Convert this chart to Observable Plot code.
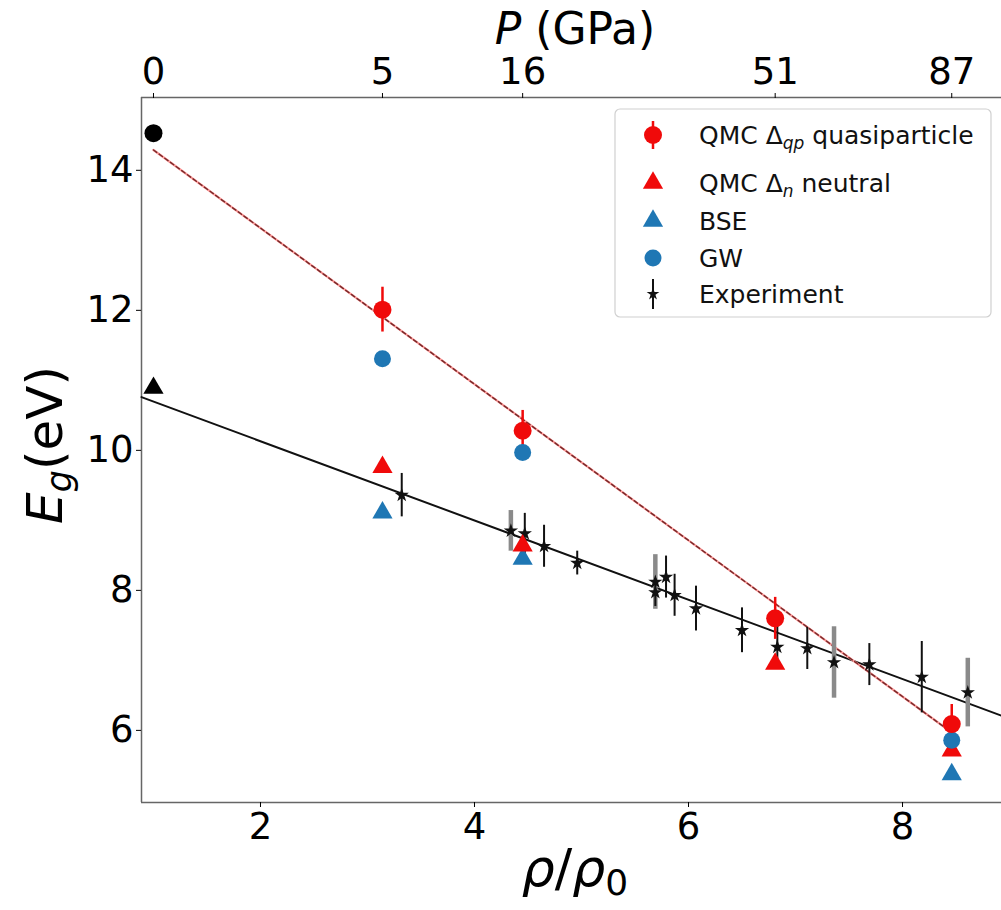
<!DOCTYPE html>
<html><head><meta charset="utf-8">
<script src="https://cdn.jsdelivr.net/npm/d3@7"></script>
<script src="https://cdn.jsdelivr.net/npm/@observablehq/plot@0.6"></script>
<style>html,body{margin:0;padding:0;background:#fff;overflow:hidden}#chart{width:1001px;height:910px}</style>
</head><body><div id="chart"></div>
<script>
// ---- data ----
const qmcRho = [3.14, 4.45, 6.81, 8.46];
const qpGap = [12.01, 10.28, 7.60, 6.09];
const qpErr = [0.32, 0.29, 0.30, 0.28];
const neutralGap = [9.76, 8.64, 6.95, 5.71];
const gwRho = [3.14, 4.45, 8.46];
const gwGap = [11.31, 9.97, 5.86];
const bseRho = [3.14, 4.45, 8.46];
const bseGap = [9.11, 8.45, 5.37];
const ambientRho = [1];
const ambientQp = [14.53];
const ambientNeutral = [10.89];
const expRho = [3.32, 4.47, 4.65, 4.96, 5.69, 5.79, 5.87, 6.07, 6.50, 6.83, 7.11, 7.69, 8.18];
const expGap = [9.36, 8.81, 8.63, 8.39, 7.97, 8.19, 7.93, 7.74, 7.43, 7.19, 7.17, 6.94, 6.76];
const expErr = [0.31, 0.29, 0.30, 0.17, 0.20, 0.30, 0.30, 0.32, 0.32, 0.30, 0.30, 0.30, 0.51];
const exp2Rho = [4.34, 5.69, 7.36, 8.61];
const exp2Gap = [8.85, 8.12, 6.97, 6.54];
const exp2Err = [0.29, 0.39, 0.51, 0.49];
const qpFitRho = [1, 8.46];
const qpFitGap = [14.29, 5.97];
const nFitRho = [0.888, 8.925];
const nFitGap = [10.76, 6.21];
const topRho = [1, 3.14, 4.45, 6.81, 8.46];
const topP = ["0", "5", "16", "51", "87"];
const bottomTicks = [2, 4, 6, 8];
const leftTicks = [6, 8, 10, 12, 14];
const xDomain = [0.888, 8.925];
const yDomain = [4.97, 15.04];

const RED = "#f00a0a", BLUE = "#1f77b4";
const rows = (xs, ys, es) => xs.map((x, i) => ({x, y: ys[i], e: es ? es[i] : 0}));
const qp = rows(qmcRho, qpGap, qpErr);
const neutral = rows(qmcRho, neutralGap);
const gw = rows(gwRho, gwGap);
const bse = rows(bseRho, bseGap);
const exp1 = rows(expRho, expGap, expErr);
const exp2 = rows(exp2Rho, exp2Gap, exp2Err);
const qpFit = rows(qpFitRho, qpFitGap);
const nFit = rows(nFitRho, nFitGap);

const plot = Plot.plot({
  width: 1001, height: 910,
  marginLeft: 141, marginRight: 0, marginTop: 97, marginBottom: 108,
  style: {fontFamily: "DejaVu Sans", fontSize: "37px", color: "#000", background: "#fff"},
  x: {domain: xDomain},
  y: {domain: yDomain},
  marks: [
    Plot.ruleY(yDomain, {stroke: "#666", strokeWidth: 1.5}),
    Plot.ruleX([xDomain[0]], {stroke: "#666", strokeWidth: 1.5}),
    Plot.axisX({anchor: "bottom", ticks: bottomTicks, tickSize: 5, tickPadding: 5, label: null, tickFormat: d => String(d)}),
    Plot.axisX({anchor: "top", ticks: topRho, tickSize: 5, tickPadding: 9, label: null, tickFormat: d => topP[topRho.indexOf(d)]}),
    Plot.axisY({anchor: "left", ticks: leftTicks, tickSize: 5, tickPadding: 3, label: null}),
    Plot.line(nFit, {x: "x", y: "y", stroke: "#111", strokeWidth: 2}),
    Plot.line(qpFit, {x: "x", y: "y", stroke: "#ff9a9a", strokeWidth: 2.2}),
    Plot.line(qpFit, {x: "x", y: "y", stroke: "#7a2a2a", strokeWidth: 1.5, strokeDasharray: "4,3"}),
    Plot.ruleX(exp2, {x: "x", y1: d => d.y - d.e, y2: d => d.y + d.e, stroke: "#8a8a8a", strokeWidth: 4.5}),
    Plot.ruleX(exp1, {x: "x", y1: d => d.y - d.e, y2: d => d.y + d.e, stroke: "#111", strokeWidth: 2}),
    Plot.dot(exp2, {x: "x", y: "y", symbol: "star", r: 4.5, fill: "#111"}),
    Plot.dot(exp1, {x: "x", y: "y", symbol: "star", r: 4.5, fill: "#111"}),
    Plot.ruleX(qp, {x: "x", y1: d => d.y - d.e, y2: d => d.y + d.e, stroke: RED, strokeWidth: 2.5}),
    Plot.dot(bse, {x: "x", y: "y", symbol: "triangle", r: 7.5, fill: BLUE}),
    Plot.dot(neutral, {x: "x", y: "y", symbol: "triangle", r: 7.5, fill: RED}),
    Plot.dot(gw, {x: "x", y: "y", r: 8.5, fill: BLUE}),
    Plot.dot(qp, {x: "x", y: "y", r: 9, fill: RED}),
    Plot.dot(rows(ambientRho, ambientQp), {x: "x", y: "y", r: 9, fill: "#000"}),
    Plot.dot(rows(ambientRho, ambientNeutral), {x: "x", y: "y", symbol: "triangle", r: 7.5, fill: "#000"})
  ]
});
document.getElementById("chart").appendChild(plot);

// ---- labels and legend ----
const svg = d3.select(plot);
const ff = "DejaVu Sans";

// top label: P (GPa)
const tTop = svg.append("text").attr("x", 575).attr("y", 44).attr("text-anchor", "middle")
  .attr("font-family", ff).attr("font-size", 44).attr("fill", "#000");
tTop.append("tspan").attr("font-style", "italic").text("P");
tTop.append("tspan").text(" (GPa)");

// bottom label: rho/rho0
const tBot = svg.append("text").attr("x", 575).attr("y", 886).attr("text-anchor", "middle")
  .attr("font-family", ff).attr("font-size", 52).attr("fill", "#000");
tBot.append("tspan").attr("font-style", "italic").text("ρ");
tBot.append("tspan").text("/");
tBot.append("tspan").attr("font-style", "italic").text("ρ");
tBot.append("tspan").attr("font-size", 36).attr("dy", 9).text("0");

// left label: E_g(eV)
const tLeft = svg.append("text").attr("transform", "translate(62,445) rotate(-90)").attr("text-anchor", "middle")
  .attr("font-family", ff).attr("font-size", 50).attr("fill", "#000");
tLeft.append("tspan").attr("font-style", "italic").text("E");
tLeft.append("tspan").attr("font-style", "italic").attr("font-size", 35).attr("dy", 9).text("g");
tLeft.append("tspan").attr("dy", -9).text("(eV)");

// legend
const lg = svg.append("g");
lg.append("rect").attr("x", 615).attr("y", 109).attr("width", 376).attr("height", 208).attr("rx", 5)
  .attr("fill", "#fff").attr("fill-opacity", 0.85).attr("stroke", "#d0d0d0").attr("stroke-width", 1.2);
const mx = 653, tx = 699;
const legendItems = [
  {y: 135, kind: "circle", color: RED, err: true, parts: [["QMC Δ", 0], ["qp", 1], [" quasiparticle", 2]]},
  {y: 183, kind: "triangle", color: RED, parts: [["QMC Δ", 0], ["n", 1], [" neutral", 2]]},
  {y: 221, kind: "triangle", color: BLUE, parts: [["BSE", 0]]},
  {y: 258, kind: "circle", color: BLUE, parts: [["GW", 0]]},
  {y: 294, kind: "exp", color: "#111", parts: [["Experiment", 0]]}
];
const triPath = d3.symbol(d3.symbolTriangle, Math.PI * 7.5 * 7.5)();
const starPath = d3.symbol(d3.symbolStar, Math.PI * 16)();
legendItems.forEach(it => {
  if (it.err) lg.append("line").attr("x1", mx).attr("x2", mx).attr("y1", it.y - 14).attr("y2", it.y + 14)
    .attr("stroke", it.color).attr("stroke-width", 2.5);
  if (it.kind === "circle") lg.append("circle").attr("cx", mx).attr("cy", it.y).attr("r", it.color === RED ? 9 : 8.5).attr("fill", it.color);
  if (it.kind === "triangle") lg.append("path").attr("d", triPath).attr("transform", `translate(${mx},${it.y})`).attr("fill", it.color);
  if (it.kind === "exp") {
    lg.append("line").attr("x1", mx).attr("x2", mx).attr("y1", it.y - 15).attr("y2", it.y + 15).attr("stroke", it.color).attr("stroke-width", 2);
    lg.append("path").attr("d", starPath).attr("transform", `translate(${mx},${it.y})`).attr("fill", it.color);
  }
  const t = lg.append("text").attr("x", tx).attr("y", it.y + 9).attr("text-anchor", "start")
    .attr("font-family", ff).attr("font-size", 25).attr("fill", "#111");
  it.parts.forEach(([s, k]) => {
    const sp = t.append("tspan").text(s);
    if (k === 1) sp.attr("font-style", "italic").attr("font-size", 17).attr("dy", 5);
    if (k === 2) sp.attr("dy", -5);
  });
});
</script>
</body></html>
